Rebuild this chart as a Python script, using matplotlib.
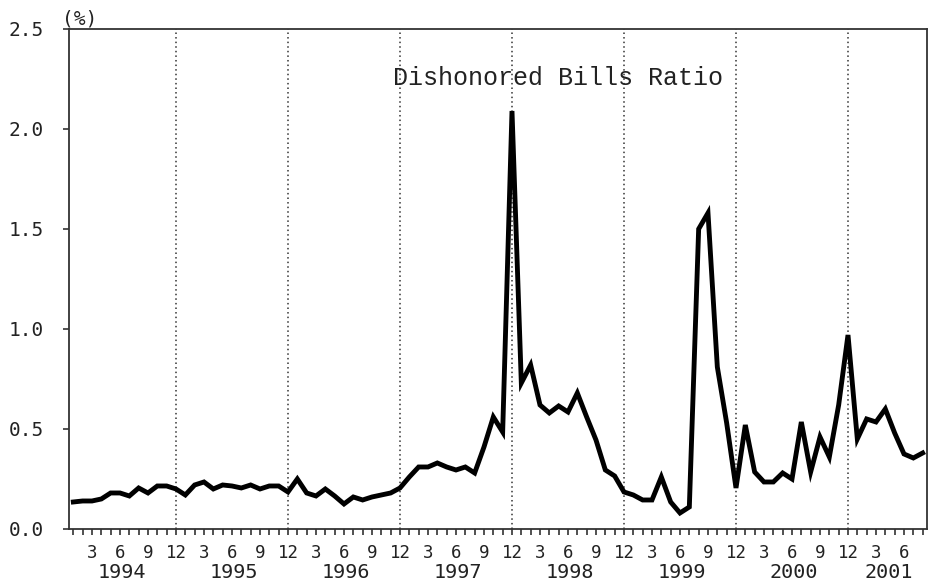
import numpy as np
import matplotlib
matplotlib.use("Agg")
import matplotlib.pyplot as plt

# monthly dishonored bills ratio (%), Jan 1994 - Aug 2001
years = [1994, 1995, 1996, 1997, 1998, 1999, 2000, 2001]
ratio_1994 = [0.135, 0.14, 0.14, 0.15, 0.18, 0.18, 0.165, 0.205, 0.18, 0.215, 0.215, 0.20]
ratio_1995 = [0.17, 0.22, 0.235, 0.20, 0.22, 0.215, 0.205, 0.22, 0.20, 0.215, 0.215, 0.185]
ratio_1996 = [0.25, 0.18, 0.165, 0.20, 0.165, 0.125, 0.16, 0.145, 0.16, 0.17, 0.18, 0.205]
ratio_1997 = [0.26, 0.31, 0.31, 0.33, 0.31, 0.295, 0.31, 0.28, 0.41, 0.56, 0.485, 2.09]
ratio_1998 = [0.73, 0.82, 0.62, 0.58, 0.615, 0.585, 0.68, 0.56, 0.445, 0.295, 0.265, 0.185]
ratio_1999 = [0.17, 0.145, 0.145, 0.26, 0.135, 0.08, 0.11, 1.50, 1.58, 0.81, 0.53, 0.205]
ratio_2000 = [0.52, 0.285, 0.235, 0.235, 0.28, 0.25, 0.535, 0.285, 0.46, 0.36, 0.62, 0.97]
ratio_2001 = [0.45, 0.55, 0.535, 0.60, 0.48, 0.375, 0.355, 0.38]
month_labels = {3: "3", 6: "6", 9: "9", 12: "12"}

ratio = np.array(ratio_1994 + ratio_1995 + ratio_1996 + ratio_1997
                 + ratio_1998 + ratio_1999 + ratio_2000 + ratio_2001)
months = np.arange(len(ratio))

mono = "DejaVu Sans Mono"

fig = plt.figure(figsize=(9.29, 5.82), dpi=100)
ax = fig.add_axes([0.0746, 0.0911, 0.9229, 0.8591])

ax.plot(months, ratio, color="black", lw=3.5, solid_joinstyle="miter")

# dotted year separators at December
for i in range(len(years) - 1):
    ax.axvline(12 * i + 11, color="#333333", ls=(0, (1, 2)), lw=1.1, zorder=0)

ax.set_xlim(-0.43, len(ratio) - 1 + 0.43)
ax.set_ylim(0, 2.5)

ax.set_yticks(np.arange(0, 2.51, 0.5))
ax.set_yticklabels([f"{v:.1f}" for v in np.arange(0, 2.51, 0.5)],
                   fontfamily=mono, fontsize=14)

ax.set_xticks(months)
ax.set_xticklabels([month_labels.get(m % 12 + 1, "") for m in months],
                   fontfamily=mono, fontsize=12.5)

ax.tick_params(axis="both", direction="out", length=4.5, width=1.2,
               color="#333333", labelcolor="#222222")
ax.tick_params(axis="y", pad=14)
ax.tick_params(axis="x", pad=6)

for s in ax.spines.values():
    s.set_color("#333333")
    s.set_linewidth(1.3)

for i, yr in enumerate(years):
    cx = min(12 * i + 5.2, 87.4)
    ax.annotate(str(yr), xy=(cx, 0), xycoords=("data", "axes fraction"),
                xytext=(0, -31.5), textcoords="offset points",
                ha="center", va="center", fontfamily=mono, fontsize=14.5,
                color="#222222", annotation_clip=False)

ax.text(-0.009, 1.0, "(%)", transform=ax.transAxes, ha="left", va="bottom",
        fontfamily=mono, fontsize=14, color="#222222")
ax.text(0.570, 0.902, "Dishonored Bills Ratio", transform=ax.transAxes,
        ha="center", va="center", fontfamily="Liberation Mono", fontsize=18,
        color="#222222")

fig.savefig("out.png", dpi=100)
